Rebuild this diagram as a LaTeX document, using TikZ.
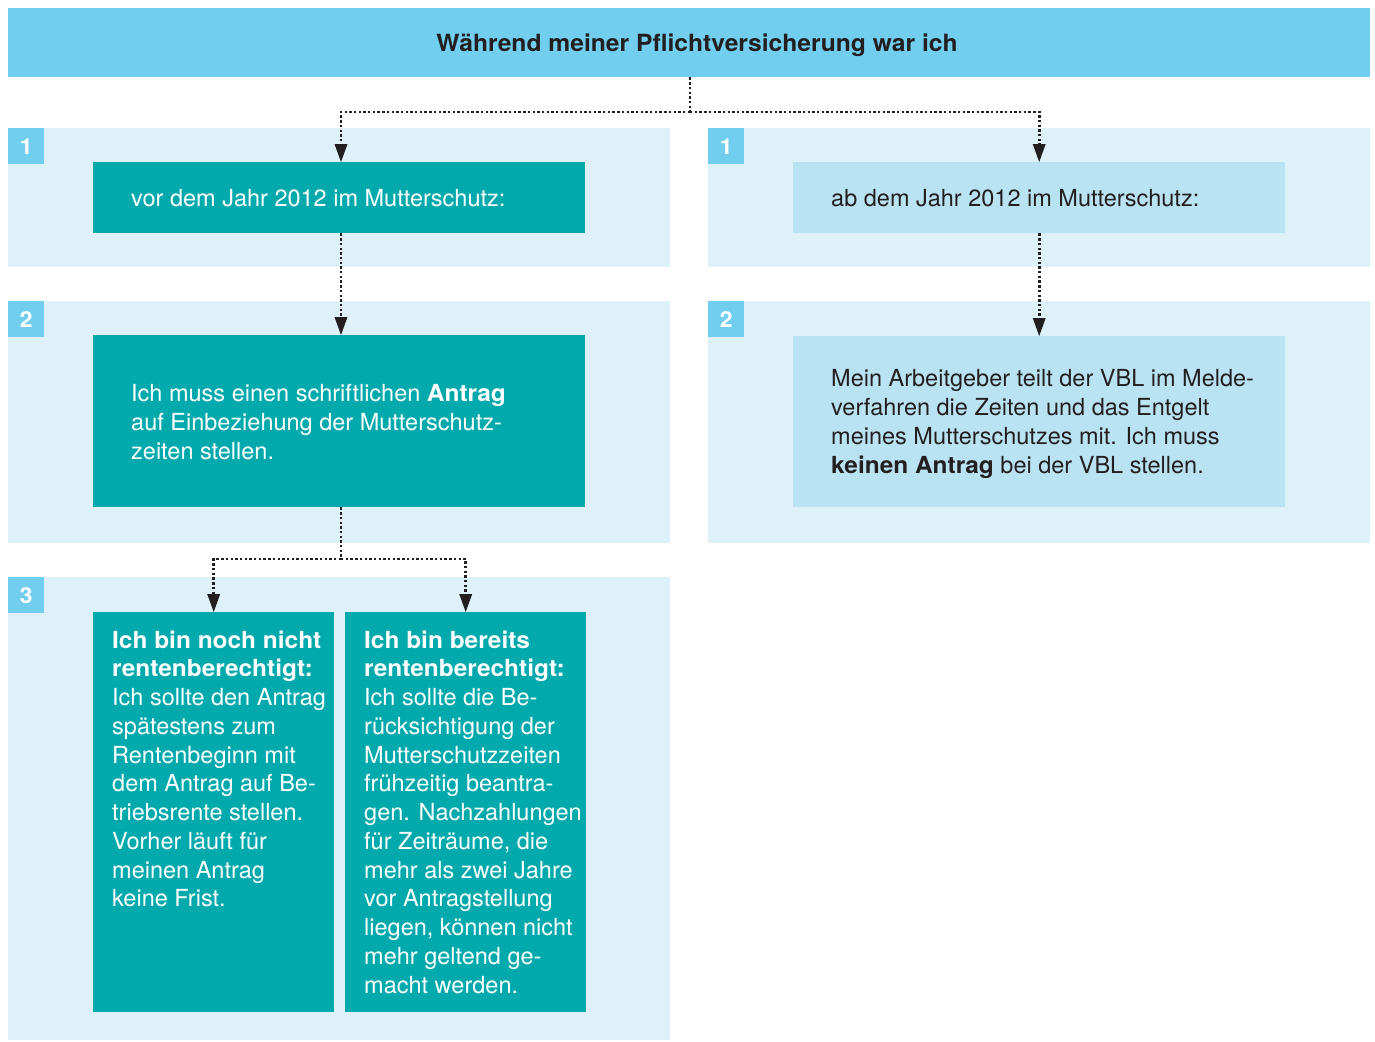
\documentclass[tikz,border=0pt]{standalone}
\usepackage{fontspec}
\setmainfont{TeX Gyre Heros}[BoldFeatures={FakeStretch=1.04}]
\usetikzlibrary{arrows.meta}
\definecolor{barblue}{HTML}{71CEEE}
\definecolor{panelbg}{HTML}{DFF1F8}
\definecolor{teal}{HTML}{00A9AC}
\definecolor{lightbox}{HTML}{B9E3F3}
\definecolor{ink}{HTML}{231F20}
\tikzset{
  panel/.style={fill=panelbg, draw=none, anchor=north west, inner sep=0pt},
  badge/.style={fill=barblue, text=white, anchor=north west, inner sep=0pt,
    minimum width=36pt, minimum height=36pt, font=\fontsize{22}{26}\selectfont\bfseries},
  tealbox/.style={fill=teal, anchor=north west, inner sep=0pt},
  lightbx/.style={fill=lightbox, anchor=north west, inner sep=0pt},
  txt/.style={anchor=north west, inner sep=0pt, align=left, font=\fontsize{23.5}{28.75}\selectfont},
  dotline/.style={draw=ink, line width=2.6pt, dash pattern=on 2.4pt off 2.3pt},
  dotarrow/.style={dotline, -{Triangle[length=18pt,width=13pt,fill=ink,line width=0pt]}, shorten >=0pt}
}
\begin{document}
\begin{tikzpicture}[x=1pt,y=-1pt]
\useasboundingbox (0,0) rectangle (1375,1041);
% top bar
\node[fill=barblue, anchor=north west, inner sep=0pt, minimum width=1362pt, minimum height=69pt] (top) at (8,8) {};
\node[anchor=center, inner sep=0pt, font=\fontsize{23.7}{28}\selectfont\bfseries, text=ink] (title) at (697,45.5) {Während meiner Pflichtversicherung war ich};
% panels
\node[panel, minimum width=662pt, minimum height=139pt] (p1l) at (8,128) {};
\node[panel, minimum width=662pt, minimum height=139pt] (p1r) at (708,128) {};
\node[panel, minimum width=662pt, minimum height=242pt] (p2l) at (8,301) {};
\node[panel, minimum width=662pt, minimum height=242pt] (p2r) at (708,301) {};
\node[panel, minimum width=662pt, minimum height=463pt] (p3l) at (8,577) {};
% badges
\node[badge] (n1l) at (8,128) {1};
\node[badge] (n1r) at (708,128) {1};
\node[badge] (n2l) at (8,301) {2};
\node[badge] (n2r) at (708,301) {2};
\node[badge] (n3l) at (8,577) {3};
% boxes
\node[tealbox, minimum width=492pt, minimum height=71pt] (b1l) at (93,162) {};
\node[lightbx, minimum width=492pt, minimum height=71pt] (b1r) at (793,162) {};
\node[tealbox, minimum width=492pt, minimum height=172pt] (b2l) at (93,335) {};
\node[lightbx, minimum width=492pt, minimum height=171pt] (b2r) at (793,336) {};
\node[tealbox, minimum width=241pt, minimum height=400pt] (b3a) at (93,612) {};
\node[tealbox, minimum width=241pt, minimum height=400pt] (b3b) at (345,612) {};
% texts
\node[txt, text=white] (t1l) at (131,189.5) {vor dem Jahr 2012 im Mutterschutz:};
\node[txt, text=ink] (t1r) at (831,189.5) {ab dem Jahr 2012 im Mutterschutz:};
\node[txt, text=white] (t2l) at (131,384.5) {Ich muss einen schriftlichen \textbf{Antrag}\\auf Einbeziehung der Mutterschutz-\\zeiten stellen.};
\node[txt, text=ink] (t2r) at (831,369.5) {Mein Arbeitgeber teilt der VBL im Melde-\\verfahren die Zeiten und das Entgelt\\meines Mutterschutzes mit. Ich muss\\\textbf{keinen Antrag} bei der VBL stellen.};
\node[txt, text=white] (t3a) at (112,630.5) {\textbf{Ich bin noch nicht}\\\textbf{rentenberechtigt:}\\Ich sollte den Antrag\\spätestens zum\\Rentenbeginn mit\\dem Antrag auf Be-\\triebsrente stellen.\\Vorher läuft für\\meinen Antrag\\keine Frist.};
\node[txt, text=white] (t3b) at (364,630.5) {\textbf{Ich bin bereits}\\\textbf{rentenberechtigt:}\\Ich sollte die Be-\\rücksichtigung der\\Mutterschutzzeiten\\frühzeitig beantra-\\gen. Nachzahlungen\\für Zeiträume, die\\mehr als zwei Jahre\\vor Antragstellung\\liegen, können nicht\\mehr geltend ge-\\macht werden.};
% connectors
\coordinate (j1) at (690,112);
\coordinate (j2) at (341,559);
\draw[dotline] (top.south -| j1) -- (j1);
\draw[dotarrow] (j1) -| (b1l.north -| j2);
\draw[dotarrow] (j1) -| (b1r.north);
\draw[dotarrow] (b1l.south -| j2) -- (b2l.north -| j2);
\draw[dotarrow] (b1r.south) -- (b2r.north);
\draw[dotline] (b2l.south -| j2) -- (j2);
\draw[dotarrow] (j2) -| (b3a.north);
\draw[dotarrow] (j2) -| (b3b.north);
\end{tikzpicture}
\end{document}
